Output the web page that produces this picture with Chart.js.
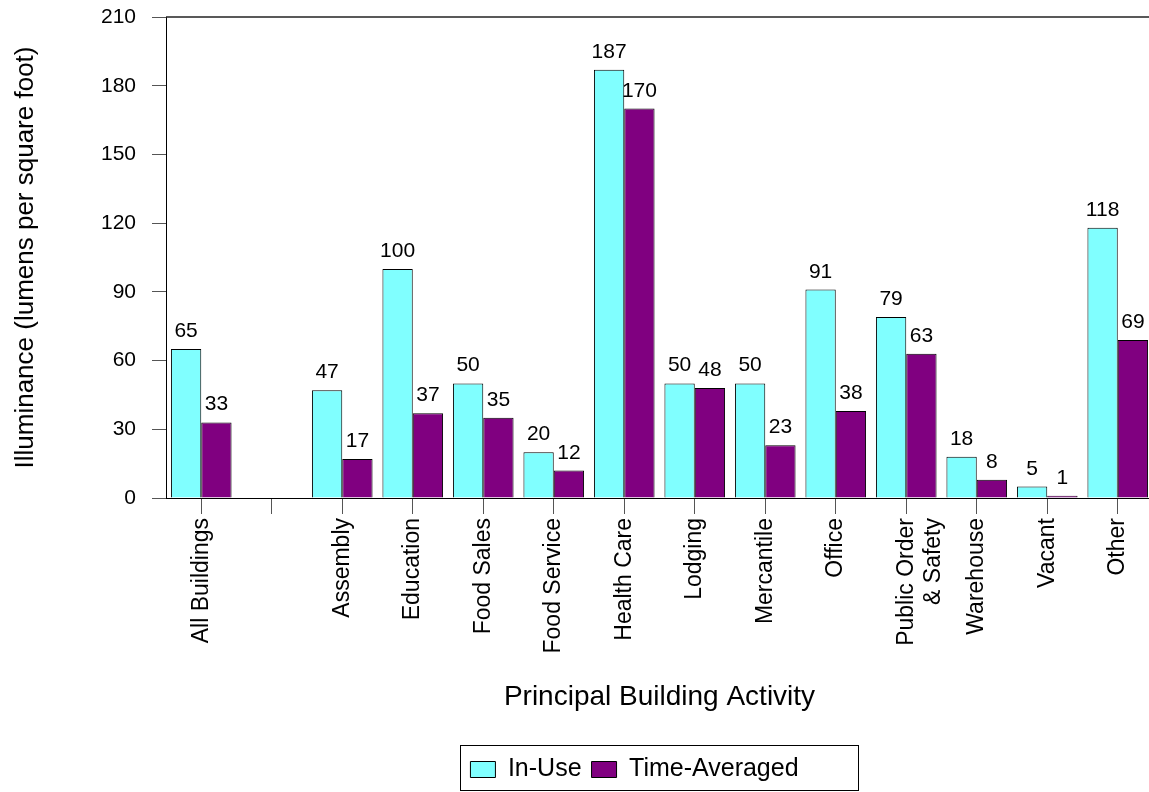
<!DOCTYPE html>
<html>
<head>
<meta charset="utf-8">
<title>Illuminance by Principal Building Activity</title>
<script src="https://cdn.jsdelivr.net/npm/chart.js@4.4.1/dist/chart.umd.min.js"></script>
<style>
  html, body { margin: 0; padding: 0; background: #fff; overflow: hidden; }
  #wrap { width: 1155px; height: 792px; }
</style>
</head>
<body>
<div id="wrap"><canvas id="chart" width="1155" height="792"></canvas></div>
<script>
const FONT = '"Liberation Sans", Arial, Helvetica, sans-serif';

// data ('' is the empty gap slot)
const categories = [
  'All Buildings', '', 'Assembly', 'Education', 'Food Sales', 'Food Service',
  'Health Care', 'Lodging', 'Mercantile', 'Office', ['Public Order', '& Safety'],
  'Warehouse', 'Vacant', 'Other'
];
const inUse        = [65, null, 47, 100, 50, 20, 187, 50, 50, 91, 79, 18, 5, 118];
const timeAveraged = [33, null, 17,  37, 35, 12, 170, 48, 23, 38, 63,  8, 1,  69];
const yMax  = 210;
const yStep = 30;

// numbers above the bars
const valueLabels = {
  id: 'valueLabels',
  afterDatasetsDraw(chart) {
    const ctx = chart.ctx;
    ctx.save();
    ctx.font = `21px ${FONT}`;
    ctx.fillStyle = '#000';
    ctx.textAlign = 'center';
    ctx.textBaseline = 'alphabetic';
    chart.data.datasets.forEach((ds, i) => {
      chart.getDatasetMeta(i).data.forEach((bar, j) => {
        const v = ds.data[j];
        if (v == null) return;
        ctx.fillText(String(v), bar.x, bar.y - 12);
      });
    });
    ctx.restore();
  }
};

// top frame line + boxed legend centred under the plot
const frame = {
  id: 'frame',
  afterLayout(chart) {
    const lg = chart.legend;
    lg.adjustHitBoxes();
    const boxes = lg.legendHitBoxes;
    if (!boxes || !boxes.length) return;
    const itemsL = boxes[0].left;
    const last = boxes[boxes.length - 1];
    const itemsR = last.left + last.width;
    const ca = chart.chartArea;
    const w = (itemsR - itemsL) + 70;
    const boxL = (ca.left + ca.right) / 2 - w / 2;
    const dx = boxL + 10 - itemsL;
    lg.left += dx;
    lg.right += dx;
    lg.adjustHitBoxes();
    lg._frameBox = { x: boxL, w: w };
  },
  afterDraw(chart) {
    const ctx = chart.ctx;
    const ca = chart.chartArea;
    ctx.save();
    ctx.strokeStyle = '#222';
    ctx.lineWidth = 1.5;
    ctx.beginPath();
    ctx.moveTo(ca.left, ca.top);
    ctx.lineTo(ca.right, ca.top);
    ctx.stroke();

    const lg = chart.legend;
    if (lg._frameBox) {
      ctx.strokeStyle = '#000';
      ctx.lineWidth = 1;
      ctx.strokeRect(Math.round(lg._frameBox.x) + 0.5, Math.round(lg.top) - 1.5,
                     Math.round(lg._frameBox.w), Math.round(lg.bottom - lg.top));
    }
    ctx.restore();
  }
};

new Chart(document.getElementById('chart'), {
  type: 'bar',
  data: {
    labels: categories,
    datasets: [
      {
        label: 'In-Use',
        data: inUse,
        backgroundColor: '#80ffff',
        borderColor: '#000',
        borderWidth: 1,
        categoryPercentage: 0.86,
        barPercentage: 1.0
      },
      {
        label: 'Time-Averaged',
        data: timeAveraged,
        backgroundColor: '#800080',
        borderColor: '#000',
        borderWidth: 1,
        categoryPercentage: 0.86,
        barPercentage: 1.0
      }
    ]
  },
  options: {
    responsive: false,
    animation: false,
    devicePixelRatio: 1,
    layout: { padding: { top: 17, right: 2, left: 0, bottom: 0 } },
    plugins: {
      tooltip: { enabled: false },
      legend: {
        position: 'bottom',
        labels: {
          color: '#000',
          font: { family: FONT, size: 25 },
          boxWidth: 25,
          boxHeight: 16,
          padding: 10
        }
      }
    },
    scales: {
      x: {
        grid: {
          offset: false,
          drawOnChartArea: false,
          drawTicks: true,
          tickLength: 16,
          color: '#555'
        },
        border: { display: true, color: '#000', width: 1 },
        ticks: {
          color: '#000',
          font: { family: FONT, size: 23 },
          minRotation: 90,
          maxRotation: 90,
          autoSkip: false,
          padding: 4
        },
        title: {
          display: true,
          text: 'Principal Building Activity',
          color: '#000',
          font: { family: FONT, size: 28 },
          padding: { top: 0, bottom: 33 }
        },
        afterFit(scale) { scale.height = 249; }
      },
      y: {
        min: 0,
        max: yMax,
        grid: {
          drawOnChartArea: false,
          drawTicks: true,
          tickLength: 14,
          color: '#555'
        },
        border: { display: true, color: '#000', width: 1 },
        ticks: {
          stepSize: yStep,
          color: '#000',
          font: { family: FONT, size: 21 },
          padding: 16
        },
        title: {
          display: true,
          text: 'Illuminance (lumens per square foot)',
          color: '#000',
          font: { family: FONT, size: 26 },
          padding: { top: 10, bottom: 0 }
        },
        afterFit(scale) {
          scale.width = 166;
          scale.paddingTop = 0;
          scale.paddingBottom = 0;
        }
      }
    }
  },
  plugins: [valueLabels, frame]
});
</script>
</body>
</html>
